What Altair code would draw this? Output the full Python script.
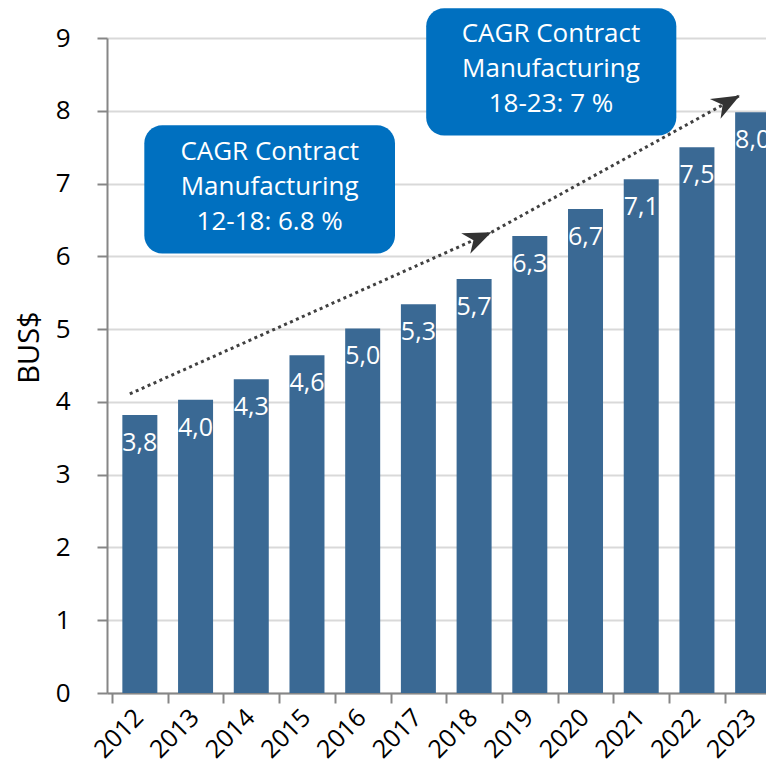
import altair as alt
import pandas as pd

# ---- data ----
years = [2012, 2013, 2014, 2015, 2016, 2017, 2018, 2019, 2020, 2021, 2022, 2023]
values = [3.82, 4.03, 4.31, 4.64, 5.01, 5.34, 5.69, 6.28, 6.65, 7.06, 7.50, 7.98]

box_texts = ["CAGR Contract\nManufacturing\n12-18: 6.8 %",
             "CAGR Contract\nManufacturing\n18-23: 7 %"]
box_x1 = [2012.08, 2017.14]
box_x2 = [2016.58, 2021.63]
box_y1 = [6.04, 7.66]
box_y2 = [7.80, 9.41]
box_tx = [2014.33, 2019.38]
box_ty = [7.44, 9.05]   # first text line

# dotted trend arrows: start/end points in data units
arrow_x0 = [2011.82, 2018.31]
arrow_y0 = [4.11, 6.33]
arrow_x1 = [2018.31, 2022.77]
arrow_y1 = [6.33, 8.21]
arrow_angles = [336.2, 331.5]

tick_bounds = [y - 0.5 for y in years]
label_pos = [y - 0.02 for y in years]

FONT = "Open Sans"
BAR = "#3A6994"
BOX = "#0070C0"
AXC = "#868686"

df = pd.DataFrame({"year": years, "value": values})
boxes = pd.DataFrame({"x1": box_x1, "x2": box_x2, "y1": box_y1, "y2": box_y2,
                      "tx": box_tx, "ty": box_ty, "txt": box_texts})
lines = pd.DataFrame({
    "seg": [0, 0, 1, 1],
    "lx": [arrow_x0[0], arrow_x1[0], arrow_x0[1], arrow_x1[1]],
    "ly": [arrow_y0[0], arrow_y1[0], arrow_y0[1], arrow_y1[1]],
})
heads = pd.DataFrame({"hx": arrow_x1, "hy": arrow_y1, "ang": arrow_angles})

xscale = alt.Scale(domain=[2011.5, 2023.15], nice=False, zero=False)
yscale = alt.Scale(domain=[0, 9], nice=False, zero=True)

# axis carrying the year labels (no ticks, no domain)
xaxis_labels = alt.Axis(
    orient="bottom", values=label_pos, labelExpr="format(round(datum.value), 'd')",
    title=None, grid=False, ticks=False, domain=False, tickSize=0,
    labelAngle=315, labelAlign="right", labelBaseline="middle", labelPadding=20,
    labelFontSize=25, labelFont=FONT, labelColor="#000000",
    labelOverlap=False, labelFlush=False, labelBound=False,
)
# axis carrying the domain line and boundary ticks (no labels)
xaxis_ticks = alt.Axis(
    orient="bottom", values=tick_bounds, labels=False, title=None, grid=False,
    tickSize=10, tickWidth=2, tickColor=AXC, domainColor=AXC, domainWidth=2,
)
yaxis = alt.Axis(
    values=list(range(0, 10)), format="d", title="BUS$",
    titleFont=FONT, titleFontSize=29, titleFontWeight="normal",
    titleColor="#000000", titleX=-78, titleY=309, titleAngle=270,
    titleAlign="center", titleBaseline="middle",
    grid=True, gridColor="#D9D9D9", gridWidth=2,
    tickSize=10, tickWidth=2, tickColor=AXC, domainColor=AXC, domainWidth=2,
    labelFontSize=26, labelFont=FONT, labelColor="#000000", labelPadding=27,
)

bars = alt.Chart(df).mark_bar(size=35, color=BAR, clip=True).encode(
    x=alt.X("year:Q", scale=xscale, axis=xaxis_labels),
    y=alt.Y("value:Q", scale=yscale, axis=yaxis),
)

labels = alt.Chart(df).transform_calculate(
    lab="replace(format(datum.value, '.1f'), '.', ',')"
).mark_text(color="#FFFFFF", font=FONT, fontSize=25, baseline="middle",
            align="center", dy=28, clip=True).encode(
    x=alt.X("year:Q", scale=xscale, axis=xaxis_ticks),
    y=alt.Y("value:Q", scale=yscale, axis=yaxis),
    text="lab:N",
)

rects = alt.Chart(boxes).mark_rect(color=BOX, cornerRadius=18).encode(
    x=alt.X("x1:Q", scale=xscale, axis=None), x2="x2:Q",
    y=alt.Y("y1:Q", scale=yscale, axis=yaxis), y2="y2:Q",
)

rtext = alt.Chart(boxes).mark_text(
    color="#FFFFFF", font=FONT, fontSize=26, lineBreak="\n", lineHeight=35,
    align="center", baseline="middle",
).encode(
    x=alt.X("tx:Q", scale=xscale, axis=None),
    y=alt.Y("ty:Q", scale=yscale, axis=yaxis),
    text="txt:N",
)

dots = alt.Chart(lines).mark_line(
    color="#404040", strokeWidth=3, strokeDash=[3, 3.5], strokeCap="butt"
).encode(
    x=alt.X("lx:Q", scale=xscale, axis=None),
    y=alt.Y("ly:Q", scale=yscale, axis=yaxis),
    detail="seg:N",
)

arrow_path = "M 0 0 L -2 -0.8 L -1.4 0 L -2 0.8 Z"
arrows = alt.Chart(heads).mark_point(
    shape=arrow_path, filled=True, size=784, color="#333333", opacity=1
).encode(
    x=alt.X("hx:Q", scale=xscale, axis=None),
    y=alt.Y("hy:Q", scale=yscale, axis=yaxis),
    angle=alt.Angle("ang:Q", scale=None),
)

chart = alt.layer(rects, bars, labels, rtext, dots, arrows).resolve_axis(
    x="independent"
).properties(
    width=659, height=655,
    autosize=alt.AutoSizeParams(type="none"),
    padding={"left": 99, "top": 30, "right": 0, "bottom": 79},
).configure_view(stroke="transparent")

chart.save("out.html", embed_options={"renderer": "svg", "actions": False})
